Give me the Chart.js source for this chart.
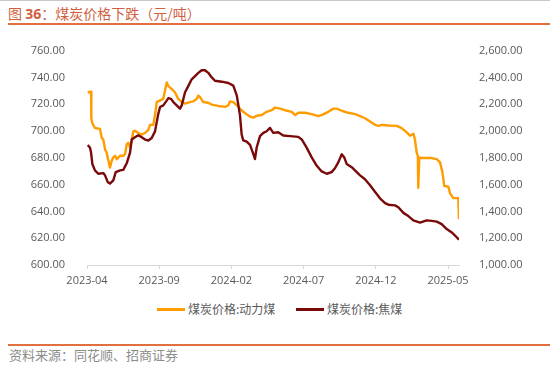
<!DOCTYPE html>
<html>
<head>
<meta charset="utf-8">
<script src="https://cdn.jsdelivr.net/npm/chart.js@4.4.1/dist/chart.umd.min.js"></script>
<style>
  body { margin: 0; width: 550px; height: 370px; background: #fff; position: relative; overflow: hidden; font-family: "Noto Sans CJK SC", sans-serif; }
  #topline { position: absolute; left: 0; top: 0; width: 550px; height: 1px; background: #c8c8c8; }
  #title { position: absolute; left: 8px; top: 3px; font-size: 14px; color: #cf5f3f; white-space: nowrap; }
  #title b { font-family: "Open Sans", sans-serif; }
  .rule { position: absolute; left: 8px; width: 542px; height: 2px; background: #e0703f; }
  #wrap { position: absolute; left: 0; top: 30px; width: 550px; height: 270px; }
  #legend { position: absolute; top: 300px; left: 0; width: 550px; height: 18px; font-size: 12px; color: #595959; }
  .item { position: absolute; top: 0; white-space: nowrap; }
  .swatch { position: absolute; top: 8px; width: 28px; height: 3px; }
  .item span.t { position: absolute; top: 0; left: 31px; line-height: 18px; }
  #source { position: absolute; left: 9px; top: 345px; font-size: 13px; color: #8c8c8c; white-space: nowrap; }
</style>
</head>
<body>
<div id="topline"></div>
<div id="title">图 <b>36</b>：煤炭价格下跌（元/吨）</div>
<div class="rule" style="top:23px"></div>
<div id="wrap"><canvas id="chart"></canvas></div>
<div id="legend"></div>
<div class="rule" style="top:344px"></div>
<div id="source">资料来源：同花顺、招商证券</div>
<script>
//----------------------------------DATA-----------------------------------------------------------

// x positions are months counted from 2023-04
const xTickMonths = [0, 5, 10, 15, 20, 25]
const xTickLabels = ['2023-04', '2023-09', '2024-02', '2024-07', '2024-12', '2025-05']

const seriesNames = ['煤炭价格:动力煤', '煤炭价格:焦煤']
const seriesColors = ['#ff9c00', '#7a0a0a']

// 动力煤 (left axis)
const thermalMonths = [0.05,0.28,0.30,0.37,0.55,0.90,1.02,1.13,1.25,1.36,
  1.43,1.59,1.71,1.82,1.94,2.06,2.17,2.29,2.51,2.63,
  2.75,2.86,2.98,3.10,3.21,3.32,3.55,3.79,4.02,4.25,
  4.36,4.59,4.71,4.83,5.06,5.28,5.40,5.52,5.63,5.87,
  6.09,6.32,6.56,6.79,7.13,7.36,7.60,7.71,7.83,8.05,
  8.40,8.64,9.09,9.56,9.79,9.90,10.13,10.37,10.59,10.82,
  11.06,11.29,11.52,11.75,12.10,12.44,12.79,13.02,13.37,13.71,
  14.18,14.41,14.64,15.10,15.56,16.02,16.36,16.71,17.06,17.29,
  17.64,18.09,18.56,18.91,19.25,19.60,19.94,20.17,20.41,20.87,
  21.45,21.79,22.14,22.37,22.60,22.71,22.83,22.91,22.94,23.01,
  23.18,23.87,24.22,24.45,24.61,24.74,25.02,25.14,25.37,25.71,25.76]
const thermalPrices = [728.9,729.4,709.5,705.8,702.2,701.6,694.9,693.6,686.3,683.9,
  680.3,672.7,677.8,680.3,681.5,679.0,680.3,681.5,681.5,682.7,
  690.0,691.2,687.6,693.6,699.8,700.2,698.5,697.3,698.5,700.9,
  704.6,704.6,711.9,721.6,722.8,724.0,730.1,736.2,733.7,731.3,
  728.9,724.0,721.6,720.4,721.6,722.1,724.0,726.4,725.3,721.6,
  721.1,719.7,718.7,718.0,719.2,722.1,721.6,719.2,716.7,714.3,
  712.4,710.7,710.0,711.4,711.9,714.3,715.5,717.5,716.7,715.5,
  714.3,711.9,713.6,713.6,712.6,711.1,712.4,714.3,716.7,716.7,
  715.1,713.6,712.6,711.1,709.5,707.0,704.6,703.8,704.6,704.1,
  703.8,702.2,699.0,696.5,698.0,693.6,683.9,681.5,657.7,680.3,
  679.8,679.8,679.0,676.6,669.3,659.1,658.4,653.5,649.9,649.9,634.1]

// 焦煤 (right axis)
const cokingMonths = [0.05,0.21,0.28,0.37,0.55,0.78,1.13,1.25,1.43,1.59,
  1.82,1.99,2.29,2.51,2.75,2.98,3.10,3.32,3.55,3.79,
  4.02,4.25,4.48,4.71,4.94,5.06,5.28,5.52,5.63,5.82,
  5.98,6.21,6.44,6.56,6.79,7.02,7.25,7.48,7.71,7.94,
  8.17,8.40,8.64,8.86,9.33,9.79,10.13,10.37,10.59,10.71,
  10.82,11.06,11.29,11.52,11.63,11.75,11.98,12.21,12.44,12.67,
  12.90,13.24,13.59,14.06,14.63,14.87,15.21,15.56,15.90,16.25,
  16.60,16.94,17.17,17.40,17.64,17.82,17.98,18.33,18.68,18.91,
  19.25,19.60,19.94,20.29,20.64,20.87,21.33,21.56,21.91,22.25,
  22.60,23.06,23.52,23.87,24.22,24.56,24.91,25.26,25.60,25.76]
const cokingPrices = [1895,1875,1839,1754,1706,1681,1686,1669,1620,1608,
  1632,1693,1706,1710,1759,1839,1936,1953,1968,1953,
  1936,1929,1948,1997,2130,2179,2191,2227,2245,2240,
  2216,2191,2167,2191,2289,2337,2386,2410,2434,2453,
  2453,2434,2400,2375,2368,2358,2339,2266,2120,1974,
  1930,1921,1896,1828,1791,1877,1962,1986,1998,2023,
  1986,1991,1966,1962,1956,1937,1876,1803,1742,1698,
  1681,1693,1722,1766,1826,1802,1754,1730,1693,1669,
  1640,1595,1547,1498,1462,1450,1445,1431,1389,1365,
  1333,1316,1333,1329,1324,1305,1268,1243,1207,1188]

//----------------------------------CHART-----------------------------------------------------------

const axisFont = {family: 'Open Sans', size: 11}
const grey = '#595959'

function toPoints(xs, ys){
    return xs.map((x, i) => ({x: x, y: ys[i]}))
}

const chart = new Chart(document.getElementById('chart'), {
    type: 'line',
    data: {
        datasets: [{
            label: seriesNames[0],
            data: toPoints(thermalMonths, thermalPrices),
            borderColor: seriesColors[0],
            yAxisID: 'yLeft',
            order: 1
        }, {
            label: seriesNames[1],
            data: toPoints(cokingMonths, cokingPrices),
            borderColor: seriesColors[1],
            yAxisID: 'yRight',
            order: 0
        }]
    },
    options: {
        responsive: true,
        maintainAspectRatio: false,
        animation: false,
        layout: {padding: {top: 15.6, left: 0, right: 0, bottom: 0}},
        elements: {
            line: {borderWidth: 2.4, tension: 0, borderJoinStyle: 'round'},
            point: {radius: 0}
        },
        plugins: {legend: {display: false}, tooltip: {enabled: false}},
        scales: {
            x: {
                type: 'linear',
                min: 0,
                max: 25.76,
                afterBuildTicks: (s) => { s.ticks = xTickMonths.map(v => ({value: v})) },
                afterFit: (s) => { s.height = 35 },
                ticks: {
                    font: axisFont, color: grey, padding: 5, maxRotation: 0,
                    callback: (v) => xTickLabels[xTickMonths.indexOf(v)]
                },
                grid: {drawOnChartArea: false, color: '#d9d9d9', tickLength: 4},
                border: {color: '#d9d9d9'}
            },
            yLeft: {
                position: 'left',
                min: 600, max: 760,
                afterFit: (s) => { s.width = 87 },
                ticks: {stepSize: 20, font: axisFont, color: grey, padding: 14,
                    callback: (v) => v.toFixed(2)},
                grid: {display: false},
                border: {display: false}
            },
            yRight: {
                position: 'right',
                min: 1000, max: 2600,
                afterFit: (s) => { s.width = 91 },
                ticks: {stepSize: 200, font: axisFont, color: grey, padding: 12,
                    callback: (v) => v.toLocaleString('en-US', {minimumFractionDigits: 2, maximumFractionDigits: 2})},
                grid: {display: false},
                border: {display: false}
            }
        }
    }
})

//----------------------------------LEGEND-----------------------------------------------------------

const legend = document.getElementById('legend')
const legendLeft = [157, 296]
seriesNames.forEach((name, i) => {
    legend.innerHTML += `<div class="item" style="left:${legendLeft[i]}px">
        <div class="swatch" style="background:${seriesColors[i]}"></div>
        <span class="t">${name}</span></div>`
})
</script>
</body>
</html>
